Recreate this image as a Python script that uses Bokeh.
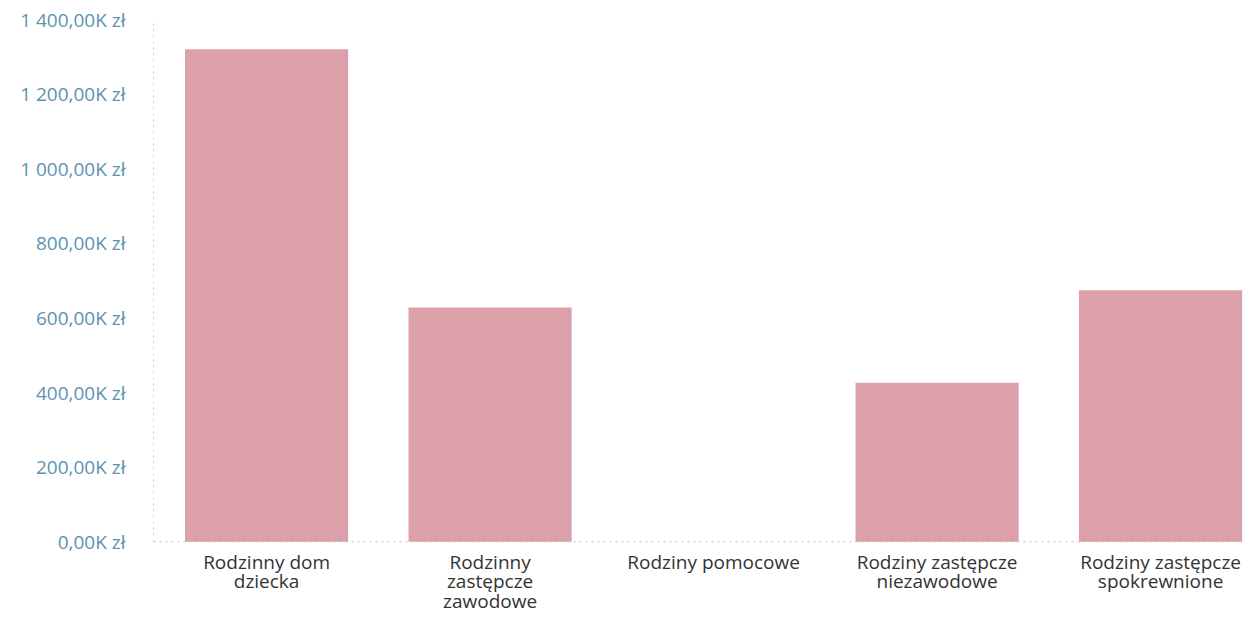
from bokeh.plotting import figure
from bokeh.models import Range1d, FixedTicker, Span, ColumnDataSource
from bokeh.core.properties import value
from bokeh.embed import file_html
from bokeh.resources import INLINE

categories = [
    "Rodzinny dom\ndziecka",
    "Rodzinny\nzastępcze\nzawodowe",
    "Rodziny pomocowe",
    "Rodziny zastępcze\nniezawodowe",
    "Rodziny zastępcze\nspokrewnione",
]
values = [1320000, 628000, 0, 426000, 674000]
tick_values = [0, 200000, 400000, 600000, 800000, 1000000, 1200000, 1400000]
tick_labels = ["0,00K zł", "200,00K zł", "400,00K zł", "600,00K zł",
               "800,00K zł", "1 000,00K zł", "1 200,00K zł", "1 400,00K zł"]

positions = list(range(len(categories)))
src = ColumnDataSource(dict(x=positions, top=values))

# one text row per label line, so that the line spacing can be set
lx, ltext, loff, lbase = [], [], [], []
for i, cat in enumerate(categories):
    for j, line in enumerate(cat.split("\n")):
        lx.append(i)
        ltext.append(line)
        loff.append(20 + j * 19.5)
        lbase.append(0)
lsrc = ColumnDataSource(dict(x=lx, y=lbase, text=ltext, off=loff))

p = figure(width=1243, height=614, x_axis_location=None,
           output_backend="svg", toolbar_location=None,
           min_border_left=153, min_border_top=19, min_border_right=0,
           min_border_bottom=0)
p.x_range = Range1d(-0.506, 4.371)
p.y_range = Range1d(-195000, 1400000)

p.vbar(x="x", top="top", width=0.73, source=src, fill_color="#dba0a9",
       line_color=None)

p.add_layout(Span(location=0, dimension="width", line_color="#b8bec2",
                  line_dash="dotted", line_width=1))

p.text(x="x", y="y", text="text", source=lsrc, y_offset="off",
       text_align="center", text_baseline="middle",
       text_font=value("Open Sans"), text_font_size="19px",
       text_color="#333333")

p.outline_line_color = None
p.xgrid.grid_line_color = None
p.ygrid.grid_line_color = None
p.background_fill_color = "white"
p.border_fill_color = "white"

p.yaxis.bounds = (0, 1400000)
p.yaxis.ticker = FixedTicker(ticks=tick_values)
p.yaxis.major_label_overrides = {v: l for v, l in zip(tick_values, tick_labels)}
p.yaxis.major_tick_line_color = None
p.yaxis.minor_tick_line_color = None
p.yaxis.axis_line_color = "#c8cfd4"
p.yaxis.axis_line_dash = "dotted"
p.yaxis.major_label_text_font = "Open Sans"
p.yaxis.major_label_text_font_size = "19px"
p.yaxis.major_label_text_color = "#5b93b0"
p.yaxis.major_label_standoff = 22

open("out.html", "w").write(file_html(p, INLINE))
